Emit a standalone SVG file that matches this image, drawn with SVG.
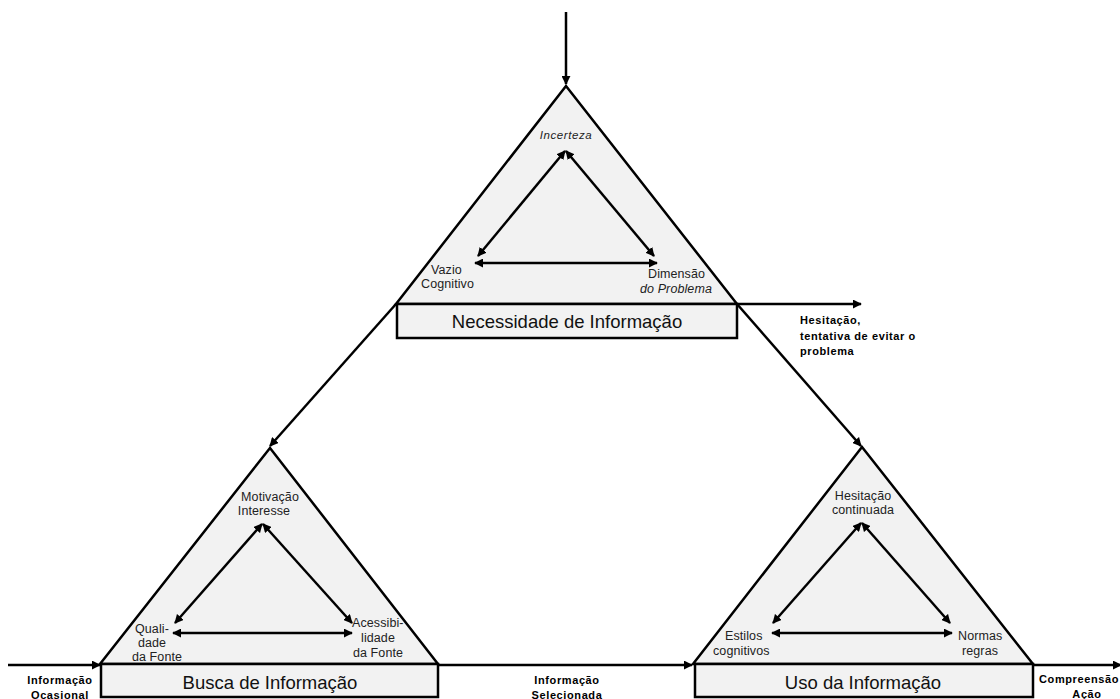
<svg xmlns="http://www.w3.org/2000/svg" width="1120" height="699" viewBox="0 0 1120 699">
<defs>
<marker id="ah" viewBox="0 0 10 10" refX="9" refY="5" markerWidth="9" markerHeight="9" markerUnits="userSpaceOnUse" orient="auto-start-reverse">
<path d="M0,0 L10,5 L0,10 z" fill="#000"/>
</marker>
<style>
.tri{fill:#f2f2f2;stroke:#000;stroke-width:2.5;stroke-linejoin:miter}
.box{fill:#f2f2f2;stroke:#000;stroke-width:2.5}
.in{stroke:#000;stroke-width:2.5;fill:none;marker-start:url(#ah);marker-end:url(#ah)}
.con{stroke:#000;stroke-width:2.5;fill:none;marker-end:url(#ah)}
.lbl{font-family:"Liberation Sans",Arial,sans-serif;font-size:12.5px;fill:#222;letter-spacing:0.1px}
.it{font-style:italic}
.title{font-family:"Liberation Sans",Arial,sans-serif;font-size:18.5px;fill:#111;text-anchor:middle}
.b{font-family:"Liberation Sans",Arial,sans-serif;font-size:11px;font-weight:bold;fill:#000;letter-spacing:0.6px}
</style>
</defs>
<rect width="1120" height="699" fill="#fff"/>

<g id="connectors">
<line class="con" x1="566" y1="12" x2="566" y2="84"/>
<line class="con" x1="396" y1="304" x2="270" y2="446"/>
<line class="con" x1="737" y1="304" x2="861" y2="446"/>
<line class="con" x1="737" y1="304" x2="861" y2="304"/>
<line class="con" x1="8" y1="665" x2="100" y2="665"/>
<line class="con" x1="438" y1="665" x2="692" y2="665"/>
<line class="con" x1="1033" y1="665" x2="1121" y2="665"/>
</g>

<g id="necessidade">
<polygon class="tri" points="566,86 396,304 737,304"/>
<rect class="box" x="397" y="304" width="340" height="34"/>
<text class="title" x="567" y="328">Necessidade de Informação</text>
<line class="in" x1="565" y1="151" x2="478" y2="256"/>
<line class="in" x1="566" y1="151" x2="654" y2="256"/>
<line class="in" x1="475" y1="263" x2="657" y2="263"/>
<text class="lbl it" x="566" y="139" text-anchor="middle" style="font-size:11.5px;letter-spacing:0.6px">Incerteza</text>
<text class="lbl" x="431" y="274">Vazio</text>
<text class="lbl" x="421" y="288">Cognitivo</text>
<text class="lbl" x="648" y="278">Dimensão</text>
<text class="lbl it" x="640" y="293">do Problema</text>
</g>

<g id="busca">
<polygon class="tri" points="270,448 100,664 438,664"/>
<rect class="box" x="101" y="664" width="337" height="33"/>
<text class="title" x="270" y="689">Busca de Informação</text>
<line class="in" x1="262" y1="524" x2="175" y2="623"/>
<line class="in" x1="263" y1="524" x2="352" y2="623"/>
<line class="in" x1="173" y1="633" x2="352" y2="633"/>
<text class="lbl" x="270" y="501" text-anchor="middle">Motivação</text>
<text class="lbl" x="264" y="515" text-anchor="middle">Interesse</text>
<text class="lbl" x="135" y="633">Quali-</text>
<text class="lbl" x="152" y="647" text-anchor="middle">dade</text>
<text class="lbl" x="157" y="661" text-anchor="middle">da Fonte</text>
<text class="lbl" x="352" y="627">Acessibi-</text>
<text class="lbl" x="378" y="642" text-anchor="middle">lidade</text>
<text class="lbl" x="378" y="657" text-anchor="middle">da Fonte</text>
</g>

<g id="uso">
<polygon class="tri" points="862,447 693,664 1033,664"/>
<rect class="box" x="695" y="664" width="338" height="33"/>
<text class="title" x="863" y="689">Uso da Informação</text>
<line class="in" x1="861" y1="523" x2="773" y2="623"/>
<line class="in" x1="862" y1="523" x2="950" y2="623"/>
<line class="in" x1="772" y1="633" x2="952" y2="633"/>
<text class="lbl" x="863" y="500" text-anchor="middle">Hesitação</text>
<text class="lbl" x="863" y="514" text-anchor="middle">continuada</text>
<text class="lbl" x="725" y="640">Estilos</text>
<text class="lbl" x="713" y="655">cognitivos</text>
<text class="lbl" x="958" y="640">Normas</text>
<text class="lbl" x="962" y="655">regras</text>
</g>

<g id="labels">
<text class="b" x="800" y="324">Hesitação,</text>
<text class="b" x="800" y="340">tentativa de evitar o</text>
<text class="b" x="800" y="355">problema</text>
<text class="b" x="60" y="684" text-anchor="middle">Informação</text>
<text class="b" x="60" y="699" text-anchor="middle">Ocasional</text>
<text class="b" x="567" y="684" text-anchor="middle">Informação</text>
<text class="b" x="567" y="699" text-anchor="middle">Selecionada</text>
<text class="b" x="1079" y="683" text-anchor="middle">Compreensão</text>
<text class="b" x="1087" y="698" text-anchor="middle">Ação</text>
</g>
</svg>
